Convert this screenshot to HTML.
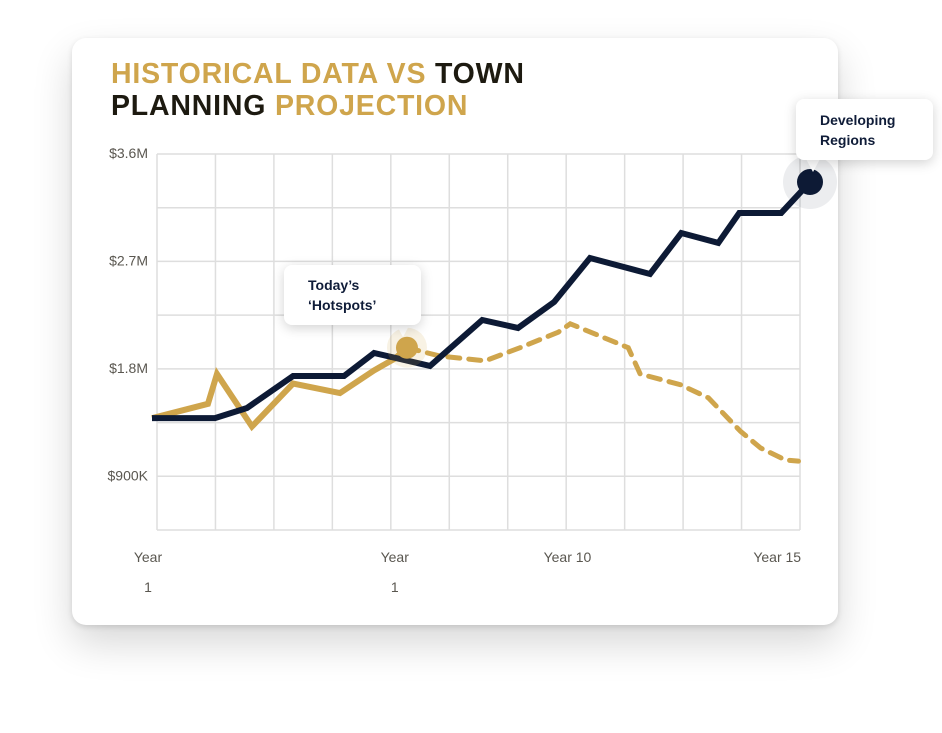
<!DOCTYPE html>
<html><head><meta charset="utf-8">
<style>
body{margin:0;width:942px;height:733px;background:#fff;overflow:hidden;font-family:"Liberation Sans",sans-serif;}
#card{position:absolute;left:72px;top:38px;width:766px;height:587px;background:#fff;border-radius:14px;box-shadow:0 18px 40px rgba(0,0,0,0.16),0 2px 6px rgba(0,0,0,0.12);}
#title{position:absolute;left:111px;top:58px;font-weight:bold;font-size:28.5px;line-height:32px;letter-spacing:0.8px;color:#cfa54c;}
#title .d{color:#1d1a10}
svg{position:absolute;left:0;top:0}
.tip{position:absolute;background:#fff;border-radius:8px;box-shadow:0 3px 12px rgba(0,0,0,0.18);font-weight:bold;font-size:14px;line-height:20px;color:#0f1c38;}
</style></head><body>
<div id="card"></div>
<div id="title">HISTORICAL DATA VS <span class="d">TOWN</span><br><span class="d">PLANNING</span> PROJECTION</div>
<svg id="chart" width="942" height="733"></svg>
<div class="tip" style="left:284px;top:265px;width:137px;height:60px;"><div style="padding:10px 0 0 24px">Today’s<br>‘Hotspots’</div></div>
<div class="tip" style="left:796px;top:99px;width:137px;height:61px;"><div style="padding:11px 0 0 24px">Developing<br>Regions</div></div>
<script>
const yTicks=[3.6,2.7,1.8,0.9];
const yTickLabels=["$3.6M","$2.7M","$1.8M","$900K"];
const xLabels=[["Year","1",0],["Year","1",6],["Year 10","",10.2],["Year 15","",15.3]];
const navyX=[0,1.53,2.31,3.43,4.67,5.40,6.76,8.03,8.90,9.78,10.65,12.11,12.87,13.77,14.28,15.30,16];
const navyY=[1.38,1.38,1.465,1.733,1.733,1.926,1.817,2.202,2.135,2.353,2.721,2.587,2.93,2.847,3.098,3.098,3.357];
const goldX=[0,1.36,1.58,2.43,3.43,4.57,5.40,5.91,6.2];
const goldY=[1.38,1.50,1.75,1.31,1.67,1.59,1.78,1.88,1.97];
const projX=[6.2,7.0,8.1,8.95,9.88,10.17,11.58,11.87,12.85,13.53,14.31,14.8,15.4,15.72];
const projY=[1.97,1.90,1.86,1.97,2.10,2.17,1.97,1.75,1.66,1.55,1.27,1.13,1.03,1.02];
const X0=152,XS=(810-152)/16,Y0=583,YS=107.5/0.9;
const sx=v=>X0+v*XS, sy=v=>Y0-v*YS;
const svg=document.getElementById('chart');const NS="http://www.w3.org/2000/svg";
function mk(t,a){const e=document.createElementNS(NS,t);for(const k in a)e.setAttribute(k,a[k]);svg.appendChild(e);return e;}
let g;
for(let i=0;i<12;i++){const x=157+i*(800-157)/11;g=mk('line',{x1:x,y1:154,x2:x,y2:530,stroke:'#dedede','stroke-width':1.5});

}
for(let i=0;i<8;i++){const y=154+i*(530-154)/7;g=mk('line',{x1:157,y1:y,x2:800,y2:y,stroke:'#dedede','stroke-width':1.5});

}
yTicks.forEach((v,i)=>{const t=mk('text',{x:148,y:sy(v)+5,'text-anchor':'end','font-size':14,fill:'#5a5750','font-family':'Liberation Sans'});t.textContent=yTickLabels[i];

});
xLabels.forEach(l=>{const x=sx(l[2]);const t=mk('text',{x:x-4,y:562,'text-anchor':'middle','font-size':14,fill:'#5a5750'});t.textContent=l[0];


if(l[1]){const t2=mk('text',{x:x-4,y:592,'text-anchor':'middle','font-size':14,fill:'#5a5750'});t2.textContent=l[1];

}});
const pts=(xs,ys)=>xs.map((x,i)=>sx(x)+','+sy(ys[i])).join(' ');
let p=mk('polyline',{points:pts(projX,projY),fill:'none',stroke:'#cfa54c','stroke-width':5,'stroke-dasharray':'12 9','stroke-linecap':'round'});


p=mk('polyline',{points:pts(goldX,goldY),fill:'none',stroke:'#cfa54c','stroke-width':6,'stroke-linejoin':'miter'});


p=mk('polyline',{points:pts(navyX,navyY),fill:'none',stroke:'#0d1a35','stroke-width':6});


const gl=goldX.length-1;
mk('circle',{cx:sx(goldX[gl]),cy:sy(goldY[gl]),r:20,fill:'rgba(207,165,76,0.15)'});
p=mk('circle',{cx:sx(goldX[gl]),cy:sy(goldY[gl]),r:11,fill:'#cfa54c'});


const nl=navyX.length-1;
mk('circle',{cx:sx(navyX[nl]),cy:sy(navyY[nl]),r:27,fill:'rgba(13,26,53,0.08)'});
p=mk('circle',{cx:sx(navyX[nl]),cy:sy(navyY[nl]),r:13,fill:'#0d1a35'});


mk('polygon',{points:'396,324 410,324 403,337',fill:'#fff'});
mk('polygon',{points:'806,159 820,159 813,172',fill:'#fff'});
</script>
</body></html>
